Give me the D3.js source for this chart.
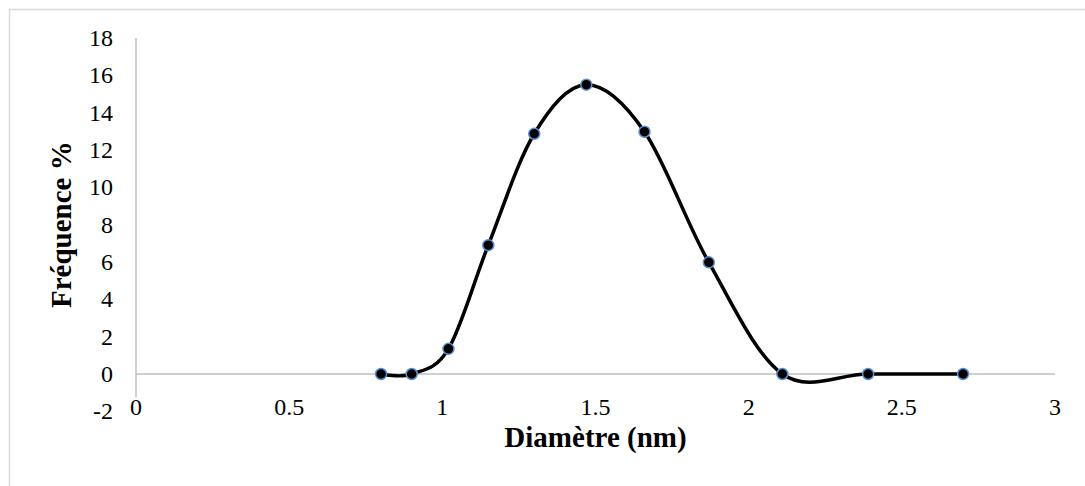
<!DOCTYPE html>
<html>
<head>
<meta charset="utf-8">
<script src="https://cdn.jsdelivr.net/npm/d3@7"></script>
<style>
  body { margin: 0; background: #fff; }
  text { font-family: "Liberation Serif", "DejaVu Serif", serif; fill: #000; }
</style>
</head>
<body>
<div id="chart"></div>
<script>
// diameter (nm) and frequency (%)
const diametres = [0.8, 0.9, 1.02, 1.15, 1.3, 1.47, 1.66, 1.87, 2.11, 2.39, 2.7];
const frequences = [0, 0, 1.35, 6.9, 12.87, 15.5, 12.98, 5.98, 0, 0, 0];
const xTicks = [0, 0.5, 1, 1.5, 2, 2.5, 3];
const yTicks = [-2, 0, 2, 4, 6, 8, 10, 12, 14, 16, 18];

const width = 1085;
const height = 486;

const data = diametres.map((d, i) => ({ x: d, y: frequences[i] }));

const x = d3.scaleLinear().domain([0, 3]).range([136, 1055]);
const y = d3.scaleLinear().domain([0, 18]).range([374, 38]);

const svg = d3.select('#chart')
  .append('svg')
  .attr('width', width)
  .attr('height', height);

// chart area border (only top and left are visible in the picture)
svg.append('path')
  .attr('d', `M9.5,${height} V9.5 H${width}`)
  .attr('fill', 'none')
  .attr('stroke', '#d9d9d9')
  .attr('stroke-width', 1.5);

// axes lines
svg.append('line')
  .attr('x1', x(0)).attr('x2', x(0))
  .attr('y1', y(18)).attr('y2', y(-1.25))
  .attr('stroke', '#bfbfbf')
  .attr('stroke-width', 1.5);

svg.append('line')
  .attr('x1', x(0)).attr('x2', x(3))
  .attr('y1', y(0)).attr('y2', y(0))
  .attr('stroke', '#bfbfbf')
  .attr('stroke-width', 1.5);

// tick labels
svg.selectAll('.ylab')
  .data(yTicks)
  .enter()
  .append('text')
  .attr('class', 'ylab')
  .attr('x', 113)
  .attr('y', (d) => y(d))
  .attr('dy', '0.33em')
  .attr('text-anchor', 'end')
  .style('font-size', '24px')
  .text((d) => d);

svg.selectAll('.xlab')
  .data(xTicks)
  .enter()
  .append('text')
  .attr('class', 'xlab')
  .attr('x', (d) => x(d))
  .attr('y', 415)
  .attr('text-anchor', 'middle')
  .style('font-size', '24px')
  .text((d) => d);

// axis titles
svg.append('text')
  .attr('x', (x(0) + x(3)) / 2)
  .attr('y', 447)
  .attr('text-anchor', 'middle')
  .style('font-size', '29px')
  .style('font-weight', 'bold')
  .text('Diamètre (nm)');

svg.append('text')
  .attr('transform', `translate(71, ${(y(18) + y(-2)) / 2}) rotate(-90)`)
  .attr('text-anchor', 'middle')
  .style('font-size', '29px')
  .style('font-weight', 'bold')
  .text('Fréquence %');

// smoothed line
const line = d3.line()
  .x((d) => x(d.x))
  .y((d) => y(d.y))
  .curve(d3.curveCardinal.tension(0));

svg.append('path')
  .datum(data)
  .attr('d', line)
  .attr('fill', 'none')
  .attr('stroke', '#000')
  .attr('stroke-width', 3.5);

// markers
svg.selectAll('.pt')
  .data(data)
  .enter()
  .append('circle')
  .attr('class', 'pt')
  .attr('cx', (d) => x(d.x))
  .attr('cy', (d) => y(d.y))
  .attr('r', 5.5)
  .attr('fill', '#000')
  .attr('stroke', '#5b8fd0')
  .attr('stroke-width', 1.5);
</script>
</body>
</html>
